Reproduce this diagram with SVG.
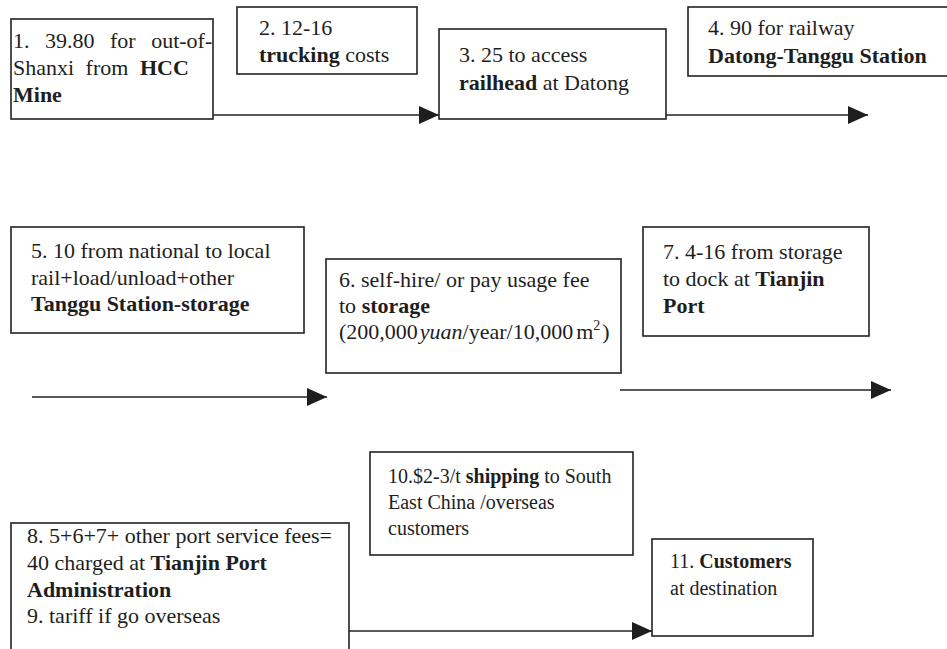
<svg xmlns="http://www.w3.org/2000/svg" width="947" height="649" viewBox="0 0 947 649">
  <style>
    .box { fill: #ffffff; stroke: #222222; stroke-width: 1.6; }
    .lbl { font-family: "Liberation Serif", "Times New Roman", serif; font-size: 22px; fill: #1e1e1e; }
    .sm { font-size: 20px; }
    .b { font-weight: bold; }
    .i { font-style: italic; }
    .conn { stroke: #222222; stroke-width: 1.6; fill: none; marker-end: url(#head); }
  </style>
  <defs>
    <marker id="head" markerUnits="userSpaceOnUse" markerWidth="20" markerHeight="18" refX="20" refY="9" orient="auto">
      <path d="M0,0 L20,9 L0,18 z" fill="#1e1e1e"/>
    </marker>
  </defs>
  <rect width="947" height="649" fill="#ffffff"/>

  <g id="connectors">
    <line class="conn" x1="213" y1="115" x2="439" y2="115"/>
    <line class="conn" x1="666" y1="115" x2="868" y2="115"/>
    <line class="conn" x1="32" y1="397" x2="327" y2="397"/>
    <line class="conn" x1="620" y1="390" x2="891" y2="390"/>
    <line class="conn" x1="349" y1="631" x2="652" y2="631"/>
  </g>

  <g id="n1">
    <rect class="box" x="11" y="19" width="202" height="100"/>
    <text class="lbl" x="13" y="48" word-spacing="10">1. 39.80 for out-of-</text>
    <text class="lbl" x="13" y="75" word-spacing="6">Shanxi from <tspan class="b">HCC</tspan></text>
    <text class="lbl b" x="13" y="102">Mine</text>
  </g>

  <g id="n2">
    <rect class="box" x="237" y="7" width="180" height="67"/>
    <text class="lbl" x="259" y="35">2. 12-16</text>
    <text class="lbl" x="259" y="62"><tspan class="b">trucking</tspan> costs</text>
  </g>

  <g id="n3">
    <rect class="box" x="439" y="29" width="227" height="90"/>
    <text class="lbl" x="459" y="62">3. 25 to access</text>
    <text class="lbl" x="459" y="90"><tspan class="b">railhead</tspan> at Datong</text>
  </g>

  <g id="n4">
    <rect class="box" x="688" y="7" width="270" height="69"/>
    <text class="lbl" x="708" y="35">4. 90 for railway</text>
    <text class="lbl b" x="708" y="63">Datong-Tanggu Station</text>
  </g>

  <g id="n5">
    <rect class="box" x="11" y="227" width="293" height="106"/>
    <text class="lbl" x="31" y="258">5. 10 from national to local</text>
    <text class="lbl" x="31" y="285">rail+load/unload+other</text>
    <text class="lbl b" x="31" y="311">Tanggu Station-storage</text>
  </g>

  <g id="n6">
    <rect class="box" x="326" y="259" width="295" height="114"/>
    <text class="lbl" x="339" y="287">6. self-hire/ or pay usage fee</text>
    <text class="lbl" x="339" y="313">to <tspan class="b">storage</tspan></text>
    <text class="lbl" x="339" y="339">(200,000<tspan class="i" dx="2">yuan</tspan>/year/10,000<tspan dx="3">m</tspan><tspan font-size="14" dy="-9">2</tspan><tspan dx="2" dy="9">)</tspan></text>
  </g>

  <g id="n7">
    <rect class="box" x="643" y="227" width="226" height="109"/>
    <text class="lbl" x="663" y="259">7. 4-16 from storage</text>
    <text class="lbl" x="663" y="286">to dock at <tspan class="b">Tianjin</tspan></text>
    <text class="lbl b" x="663" y="313">Port</text>
  </g>

  <g id="n8">
    <rect class="box" x="11" y="523" width="338" height="140"/>
    <text class="lbl" x="27" y="543">8. 5+6+7+ other port service fees=</text>
    <text class="lbl" x="27" y="570">40 charged at <tspan class="b">Tianjin Port</tspan></text>
    <text class="lbl b" x="27" y="597">Administration</text>
    <text class="lbl" x="27" y="623">9. tariff if go overseas</text>
  </g>

  <g id="n10">
    <rect class="box" x="370" y="452" width="263" height="103"/>
    <text class="lbl sm" x="388" y="483">10.$2-3/t <tspan class="b">shipping</tspan> to South</text>
    <text class="lbl sm" x="388" y="509">East China /overseas</text>
    <text class="lbl sm" x="388" y="535">customers</text>
  </g>

  <g id="n11">
    <rect class="box" x="652" y="539" width="161" height="97"/>
    <text class="lbl sm" x="670" y="568">11. <tspan class="b">Customers</tspan></text>
    <text class="lbl sm" x="670" y="595">at destination</text>
  </g>
</svg>
